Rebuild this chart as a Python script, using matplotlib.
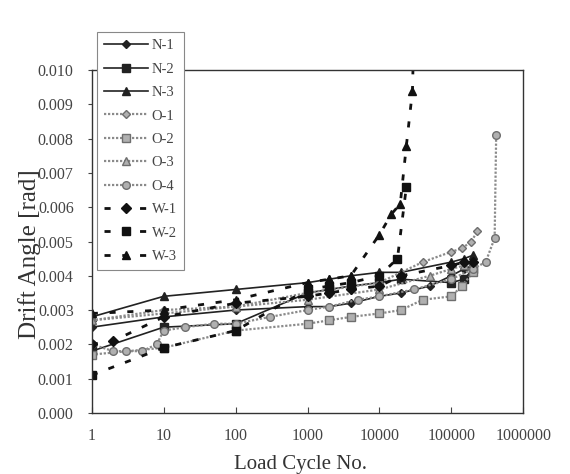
import matplotlib
matplotlib.use('Agg')
import matplotlib.pyplot as plt
from matplotlib.ticker import FixedLocator, FixedFormatter, NullLocator

plt.rcParams['font.family'] = ['Liberation Serif', 'DejaVu Serif']

# data
n1_x = [1, 10, 100, 1000, 2000, 4000, 10000, 20000, 50000, 100000, 150000, 200000]
n1_y = [0.0025, 0.0028, 0.0030, 0.0031, 0.0031, 0.0032, 0.0034, 0.0035, 0.0037, 0.0040, 0.0042, 0.0043]
n2_x = [1, 10, 100, 1000, 2000, 4000, 10000, 20000, 100000, 150000, 200000]
n2_y = [0.0018, 0.0025, 0.0026, 0.0035, 0.0036, 0.0037, 0.0038, 0.0039, 0.0038, 0.0039, 0.0042]
n3_x = [1, 10, 100, 1000, 2000, 4000, 10000, 20000, 100000, 150000, 200000]
n3_y = [0.0028, 0.0034, 0.0036, 0.0038, 0.0039, 0.0040, 0.0041, 0.0041, 0.0044, 0.0045, 0.0046]
o1_x = [1, 10, 100, 1000, 10000, 40000, 100000, 140000, 190000, 230000]
o1_y = [0.0027, 0.0030, 0.0031, 0.0035, 0.0038, 0.0044, 0.0047, 0.0048, 0.0050, 0.0053]
o2_x = [1, 10, 100, 1000, 2000, 4000, 10000, 20000, 40000, 100000, 140000, 200000]
o2_y = [0.0017, 0.0019, 0.0024, 0.0026, 0.0027, 0.0028, 0.0029, 0.0030, 0.0033, 0.0034, 0.0037, 0.0041]
o3_x = [1, 10, 100, 1000, 10000, 50000, 100000, 150000, 200000]
o3_y = [0.0027, 0.0029, 0.0031, 0.0033, 0.0036, 0.0040, 0.0042, 0.0043, 0.0044]
o4_x = [1, 2, 3, 5, 8, 10, 20, 50, 100, 300, 1000, 2000, 5000, 10000, 30000,
        100000, 200000, 300000, 400000, 420000]
o4_y = [0.0020, 0.0018, 0.0018, 0.0018, 0.0020, 0.0024, 0.0025, 0.0026, 0.0026, 0.0028,
        0.0030, 0.0031, 0.0033, 0.0034, 0.0036, 0.0039, 0.0042, 0.0044, 0.0051, 0.0081]
w1_x = [1, 2, 10, 100, 1000, 2000, 4000, 10000, 20000, 100000, 150000, 200000]
w1_y = [0.0020, 0.0021, 0.0028, 0.0032, 0.0034, 0.0035, 0.0036, 0.0037, 0.0040, 0.0043, 0.0044, 0.0044]
w2_x = [1, 10, 100, 1000, 2000, 4000, 10000, 17800, 23700]
w2_y = [0.0011, 0.0019, 0.0024, 0.0036, 0.0037, 0.0038, 0.0040, 0.0045, 0.0066]
w3_x = [1, 10, 100, 1000, 2000, 4000, 10000, 14700, 19500, 23700, 28800, 30000]
w3_y = [0.0029, 0.0030, 0.0033, 0.0038, 0.0039, 0.0040, 0.0052, 0.0058, 0.0061, 0.0078, 0.0094, 0.0110]

x_ticks = [1, 10, 100, 1000, 10000, 100000, 1000000]
x_labels = ['1', '10', '100', '1000', '10000', '100000', '1000000']
y_ticks = [0.000, 0.001, 0.002, 0.003, 0.004, 0.005, 0.006, 0.007, 0.008, 0.009, 0.010]

fig = plt.figure(figsize=(5.70, 4.74), dpi=100)
ax = fig.add_axes([0.161, 0.129, 0.757, 0.723])

dark = '#222222'
grey_line = '#8a8a8a'
grey_face = '#b0b0b0'
grey_edge = '#6e6e6e'

solid = dict(color=dark, lw=1.2, ms=5.5, mfc=dark, mec=dark)
dotted = dict(color=grey_line, lw=1.6, ls=(0, (1, 0.8)), ms=5.5, mfc=grey_face, mec=grey_edge)
dashed = dict(color='#111111', lw=2.0, ls=(0, (2.2, 4.2)), ms=6, mfc='#111111', mec='#111111')

ax.plot(n1_x, n1_y, marker='D', label='N-1', **dict(solid, ms=4.5))
ax.plot(n2_x, n2_y, marker='s', label='N-2', **solid)
ax.plot(n3_x, n3_y, marker='^', label='N-3', **solid)
ax.plot(o1_x, o1_y, marker='D', label='O-1', **dict(dotted, ms=4.5))
ax.plot(o2_x, o2_y, marker='s', label='O-2', **dotted)
ax.plot(o3_x, o3_y, marker='^', label='O-3', **dotted)
ax.plot(o4_x, o4_y, marker='o', label='O-4', **dotted)
ax.plot(w1_x, w1_y, marker='D', label='W-1', **dict(dashed, ms=5))
ax.plot(w2_x, w2_y, marker='s', label='W-2', **dashed)
ax.plot(w3_x, w3_y, marker='^', label='W-3', **dashed)

ax.set_xscale('log')
ax.set_xlim(1, 1000000)
ax.set_ylim(0, 0.010)
ax.xaxis.set_major_locator(FixedLocator(x_ticks))
ax.xaxis.set_major_formatter(FixedFormatter(x_labels))
ax.xaxis.set_minor_locator(NullLocator())
ax.set_yticks(y_ticks)
ax.set_yticklabels(['%.3f' % v for v in y_ticks])

ax.tick_params(axis='x', direction='in', length=4, labelsize=11.5, pad=11, colors='#444444')
ax.tick_params(axis='y', direction='out', length=3, labelsize=11.5, pad=10, colors='#444444')
for s in ax.spines.values():
    s.set_color('#333333')
    s.set_linewidth(1.0)

ax.set_xlabel('Load Cycle No.', fontsize=15, color='#333333')
ax.xaxis.set_label_coords(0.483, -0.122)
ax.set_ylabel('Drift Angle [rad]', fontsize=18, color='#333333')
ax.yaxis.set_label_coords(-0.118, 0.464)

leg = fig.legend(loc='upper left', bbox_to_anchor=(0.170, 0.933), borderaxespad=0,
                 fontsize=10.5, handlelength=3.0, handletextpad=0.25, labelspacing=0.7,
                 borderpad=0.5, fancybox=False, framealpha=1.0, edgecolor='#888888',
                 labelcolor='#444444')
leg.get_frame().set_linewidth(0.8)

fig.savefig('out.png', dpi=100)
